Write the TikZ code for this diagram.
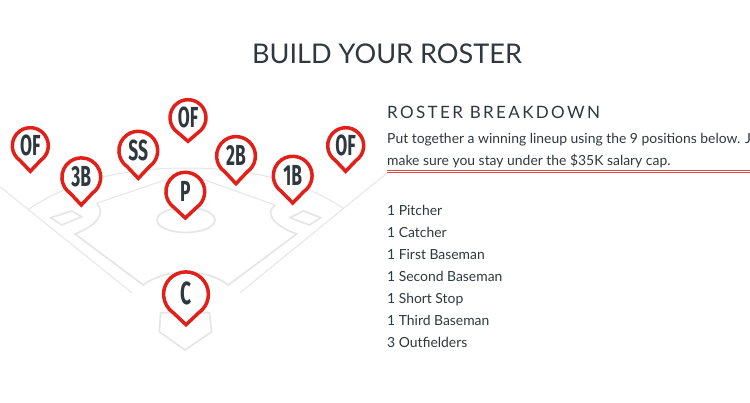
\documentclass[tikz,border=0pt]{standalone}
\usepackage{fontspec}
\setmainfont{Lato}
\definecolor{ink}{HTML}{30383F}
\definecolor{pinred}{HTML}{E2201A}
\definecolor{fieldgray}{HTML}{E6E6E6}
\definecolor{rulered}{HTML}{DC4A48}
\newcommand{\pinmark}[6]{%
 \begin{scope}[shift={(#2,#3)},y=1pt]
  \draw[pinline,fill=white] (-55:#4) arc[start angle=-55,end angle=235,radius=#4] -- (0,-#5) -- cycle;
  \node[pinlabel] (#1) at (0,0.5) {\fontsize{#6}{#6}\selectfont\scalebox{.6}[1]{\pinname}};
 \end{scope}}
\tikzset{
 pinline/.style={draw=pinred,line width=3.5pt,line join=miter,miter limit=10},
 pinlabel/.style={text=ink,inner sep=0pt,font=\sffamily\fontseries{sb}},
 fieldthin/.style={draw=fieldgray,line width=1pt},
 fieldthick/.style={draw=fieldgray,line width=1.7pt},
 bodytext/.style={text=ink,anchor=base west,inner sep=0pt,font=\fontsize{13.9}{13.9}\selectfont},
}
\setsansfont{Fira Sans}
\begin{document}
\begin{tikzpicture}[x=1pt,y=-1pt]
\useasboundingbox[fill=white] (0,0) rectangle (750,403);
\clip (0,0) rectangle (750,403);
% title
\node[text=ink,inner sep=0pt,font=\fontsize{27.1}{27.1}\selectfont] (title) at (387,53.5) {BUILD YOUR ROSTER};
% field
\draw[fieldthin] (0,186.7) -- (131.7,292.7);
\draw[fieldthin] (386.7,173.3) -- (240,292.7);
\draw[fieldthin] (29,209) .. controls (75,178) and (130,168) .. (186,168) .. controls (242,168) and (298,178) .. (343.3,208.3);
\draw[fieldthick,line join=miter] (96.7,203.3) .. controls (105,212) and (100,224) .. (75,234) -- (143.3,285)
  .. controls (165,268) and (207,268) .. (228.3,285) -- (296.7,234)
  .. controls (270,224) and (266,212) .. (275,205);
\draw[fieldthin] (96.7,203.3) -- (160,181.7) .. controls (175,177) and (195,177) .. (206.7,180.7) -- (275,205);
\draw[fieldthick] (50.7,217.7) -- (71.7,211) -- (81.7,216.7) -- (61.7,225) -- cycle;
\draw[fieldthick] (290,217.7) -- (303.3,211) -- (320.7,217.7) -- (309.3,225) -- cycle;
\draw[fieldthick] (186,220) ellipse[x radius=29,y radius=12.5];
\draw[fieldthick] (160.7,312.7) -- (159.3,331.7) -- (185,350) -- (211.7,331.7) -- (209.3,312.7) -- cycle;
% pins
\def\pinname{OF}\pinmark{pa}{30.3}{145.7}{18}{25.6}{29}
\def\pinname{3B}\pinmark{pb}{81.3}{177.3}{19.4}{27.7}{29}
\def\pinname{SS}\pinmark{pc}{138.3}{150.7}{19.4}{27.7}{29}
\def\pinname{OF}\pinmark{pd}{188}{117.7}{18}{23.6}{29}
\def\pinname{P}\pinmark{pe}{185.3}{191.7}{19.4}{26.3}{29}
\def\pinname{2B}\pinmark{pf}{236}{156}{19.4}{27.7}{29}
\def\pinname{1B}\pinmark{pg}{292.7}{175.7}{19.4}{27.3}{29}
\def\pinname{OF}\pinmark{ph}{345.7}{145.7}{18}{25.6}{29}
\def\pinname{C}\pinmark{pi}{186}{294.3}{22.4}{30.4}{32}
% text
\node[text=ink,anchor=base west,inner sep=0pt,font=\fontsize{17}{17}\selectfont] (head) at (387,119) {\addfontfeatures{LetterSpace=14}ROSTER BREAKDOWN};
\node[bodytext] (pa1) at (387,144) {Put together a winning lineup using the 9 positions below. J};
\node[bodytext] (pa2) at (387,165.5) {make sure you stay under the \$35K salary cap.};
\draw[rulered,line width=1pt] (387,170.3) -- (750,170.3);
\draw[rulered,line width=1pt] (387,172.6) -- (750,172.6);
\node[bodytext] (l1) at (387,216) {1 Pitcher};
\node[bodytext] (l2) at (387,238) {1 Catcher};
\node[bodytext] (l3) at (387,260) {1 First Baseman};
\node[bodytext] (l4) at (387,282) {1 Second Baseman};
\node[bodytext] (l5) at (387,304) {1 Short Stop};
\node[bodytext] (l6) at (387,326) {1 Third Baseman};
\node[bodytext] (l7) at (387,348) {3 Outfielders};
\end{tikzpicture}
\end{document}
